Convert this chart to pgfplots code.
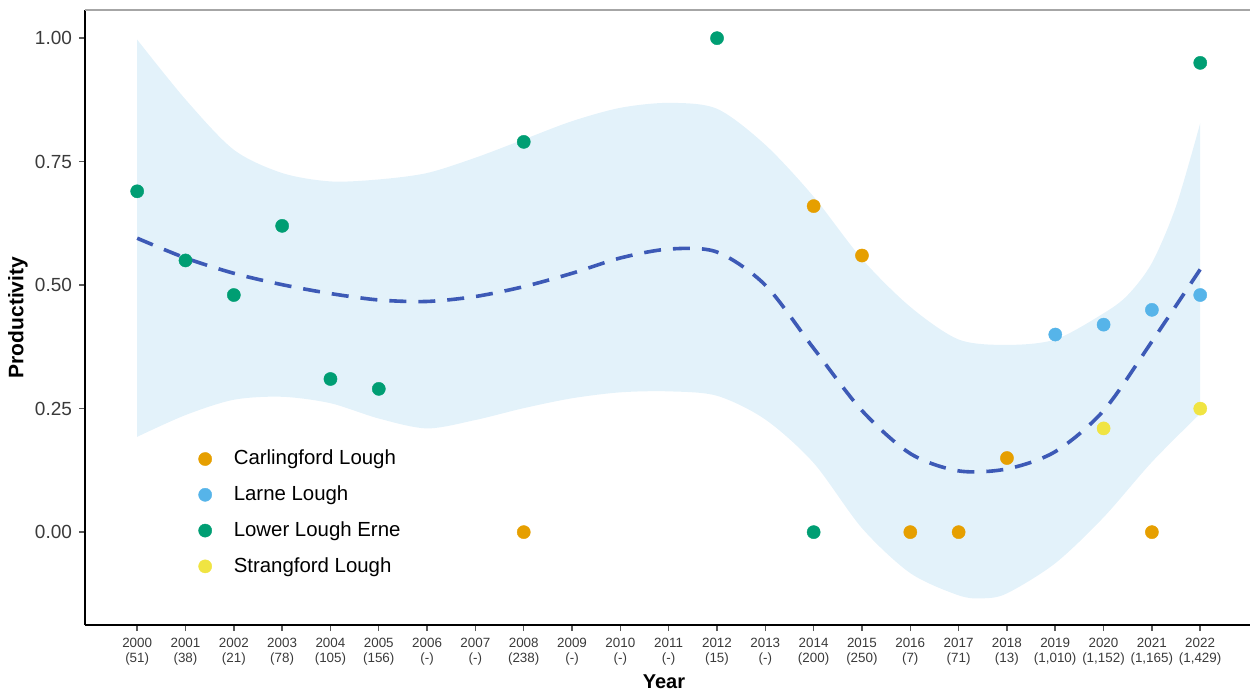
\documentclass[border=0pt]{standalone}
\usepackage{pgfplots}
\pgfplotsset{compat=1.18}
\usepgfplotslibrary{fillbetween}
\usepackage{fontspec}
\setmainfont{Liberation Sans}

\definecolor{carling}{HTML}{E69F00}
\definecolor{larne}{HTML}{56B4E9}
\definecolor{erne}{HTML}{009E73}
\definecolor{strang}{HTML}{F0E442}
\definecolor{trend}{HTML}{3D5AB6}
\definecolor{band}{HTML}{E3F2FA}
\definecolor{ticktext}{HTML}{3A3A3A}

\begin{document}
\begin{tikzpicture}
\begin{axis}[
  scale only axis,
  width=582.5pt, height=307.5pt,
  xmin=1998.92, xmax=2023.03,
  ymin=-0.188, ymax=1.057,
  axis x line*=bottom, axis y line*=left,
  axis line style={black, line width=1pt, -},
  tick align=outside,
  major tick length=3pt,
  tick style={color=black!65, line width=0.7pt},
  xtick={2000,...,2022},
  xticklabels={{2000\\(51)},{2001\\(38)},{2002\\(21)},{2003\\(78)},{2004\\(105)},{2005\\(156)},{2006\\(-)},{2007\\(-)},{2008\\(238)},{2009\\(-)},{2010\\(-)},{2011\\(-)},{2012\\(15)},{2013\\(-)},{2014\\(200)},{2015\\(250)},{2016\\(7)},{2017\\(71)},{2018\\(13)},{2019\\(1,010)},{2020\\(1,152)},{2021\\(1,165)},{2022\\(1,429)}},
  xticklabel style={align=center, font=\fontsize{6.7}{7.6}\selectfont, text=ticktext},
  ytick={0,0.25,0.5,0.75,1},
  /pgf/number format/.cd, fixed, fixed zerofill, precision=2, assume math mode=true,
  /pgfplots/.cd,
  yticklabel style={font=\fontsize{9.5}{11}\selectfont, text=ticktext},
  xlabel={\textbf{Year}},
  ylabel={\textbf{Productivity}},
  xlabel style={font=\fontsize{10}{11}\selectfont, at={(axis description cs:0.497,-0.0927)}, anchor=center},
  ylabel style={font=\fontsize{10.5}{11}\selectfont, at={(axis description cs:-0.0575,0.5)}, anchor=center, rotate=0},
  legend style={draw=none, fill=none, at={(rel axis cs:0.092,0.298)}, anchor=north west,
    font=\fontsize{10.2}{12}\selectfont, row sep=5pt,
    /tikz/every odd column/.append style={column sep=9pt}},
  legend cell align=left,
  clip=false,
]

% confidence band of the smoother
\addplot[name path=upper, draw=none, smooth, forget plot] coordinates {
 (2000,0.997)(2001,0.876)(2002,0.774)(2003,0.727)(2004,0.710)(2005,0.714)
 (2006,0.727)(2007,0.758)(2008,0.795)(2009,0.832)(2010,0.859)(2011,0.869)
 (2012,0.857)(2013,0.784)(2014,0.679)(2015,0.553)(2016,0.456)(2017,0.390)
 (2018,0.379)(2019,0.390)(2020,0.443)(2020.5,0.480)(2021,0.545)(2021.5,0.660)(2022,0.828)};
\addplot[name path=lower, draw=none, smooth, forget plot] coordinates {
 (2000,0.193)(2001,0.237)(2002,0.268)(2003,0.274)(2004,0.261)(2005,0.230)
 (2006,0.210)(2007,0.227)(2008,0.251)(2009,0.271)(2010,0.283)(2011,0.285)
 (2012,0.276)(2013,0.228)(2014,0.140)(2015,0.008)(2016,-0.083)(2017,-0.128)
 (2017.5,-0.134)(2018,-0.124)(2019,-0.063)(2020,0.030)(2021,0.142)(2022,0.240)};
\addplot[band, forget plot] fill between[of=upper and lower];

% fitted trend
\addplot[trend, line width=1.8pt, smooth, dash pattern=on 8.5pt off 6pt, forget plot] coordinates {
 (2000,0.595)(2001,0.555)(2002,0.524)(2003,0.501)(2004,0.483)(2005,0.470)
 (2006,0.467)(2007,0.477)(2008,0.497)(2009,0.524)(2010,0.555)(2011,0.573)
 (2012,0.567)(2013,0.500)(2014,0.372)(2015,0.246)(2016,0.159)(2017,0.124)
 (2018,0.128)(2019,0.163)(2020,0.246)(2021,0.386)(2022,0.532)};

% observations by lough
\addplot[only marks, mark=*, mark size=3.3pt, mark options={draw=carling, fill=carling, line width=0.2pt}] coordinates {
 (2008,0)(2014,0.66)(2015,0.56)(2016,0)(2017,0)(2018,0.15)(2021,0)};
\addlegendentry{Carlingford Lough}
\addplot[only marks, mark=*, mark size=3.3pt, mark options={draw=larne, fill=larne, line width=0.2pt}] coordinates {
 (2019,0.40)(2020,0.42)(2021,0.45)(2022,0.48)};
\addlegendentry{Larne Lough}
\addplot[only marks, mark=*, mark size=3.3pt, mark options={draw=erne, fill=erne, line width=0.2pt}] coordinates {
 (2000,0.69)(2001,0.55)(2002,0.48)(2003,0.62)(2004,0.31)(2005,0.29)
 (2008,0.79)(2012,1.00)(2014,0.00)(2022,0.95)};
\addlegendentry{Lower Lough Erne}
\addplot[only marks, mark=*, mark size=3.3pt, mark options={draw=strang, fill=strang, line width=0.2pt}] coordinates {
 (2020,0.21)(2022,0.25)};
\addlegendentry{Strangford Lough}

% thin frame line along the top
\draw[black!35, line width=0.8pt] (rel axis cs:0,1) -- (rel axis cs:1,1);
\end{axis}
\pgfresetboundingbox
\path[use as bounding box] ([xshift=-42.5pt,yshift=-34pt]current axis.south west) rectangle ([yshift=5pt]current axis.north east);
\end{tikzpicture}
\end{document}
